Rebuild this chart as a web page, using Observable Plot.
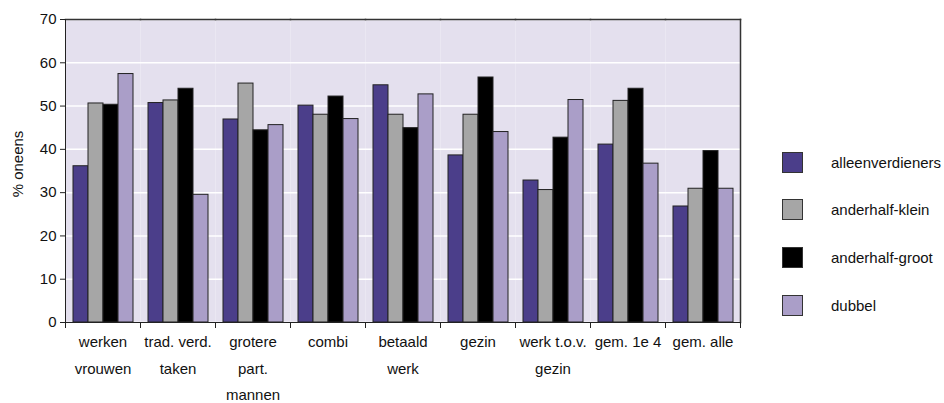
<!DOCTYPE html>
<html>
<head>
<meta charset="utf-8">
<script src="https://cdn.jsdelivr.net/npm/d3@7"></script>
<script src="https://cdn.jsdelivr.net/npm/@observablehq/plot@0.6"></script>
<style>
  html, body { margin: 0; padding: 0; background: #fff; }
  #wrap { position: relative; width: 944px; height: 403px; font-family: "Liberation Sans", Arial, sans-serif; }
  #ylabel { position: absolute; left: 17px; top: 164px; transform: translate(-50%, -50%) rotate(-90deg); font-size: 15px; color: #111; white-space: nowrap; }
  #legend { position: absolute; left: 782px; top: 151px; }
  .item { position: absolute; left: 0; height: 22px; display: flex; align-items: center; white-space: nowrap; }
  .sw { width: 21px; height: 21px; box-sizing: border-box; border: 1px solid #333; margin-right: 28px; }
  .lbl { font-size: 15px; color: #111; }
</style>
</head>
<body>
<div id="wrap"><div id="ylabel"></div><div id="legend"></div></div>
<script>
const categories = ["werken vrouwen", "trad. verd. taken", "grotere part. mannen", "combi", "betaald werk", "gezin", "werk t.o.v. gezin", "gem. 1e 4", "gem. alle"];
const tickLabels = ["werken\nvrouwen", "trad. verd.\ntaken", "grotere\npart.\nmannen", "combi", "betaald\nwerk", "gezin", "werk t.o.v.\ngezin", "gem. 1e 4", "gem. alle"];
const seriesNames = ["alleenverdieners", "anderhalf-klein", "anderhalf-groot", "dubbel"];
const seriesColors = ["#4b3e8a", "#a6a6a6", "#000000", "#aa9ec8"];
const alleenverdieners = [36.1, 50.7, 46.9, 50.1, 54.8, 38.6, 32.8, 41.1, 26.8];
const anderhalfKlein   = [50.6, 51.3, 55.2, 48.0, 48.0, 48.0, 30.6, 51.2, 30.9];
const anderhalfGroot   = [50.3, 54.0, 44.4, 52.2, 44.9, 56.6, 42.7, 54.0, 39.6];
const dubbel           = [57.4, 29.5, 45.6, 47.0, 52.7, 44.0, 51.4, 36.7, 30.9];
const yTicks = [0, 10, 20, 30, 40, 50, 60, 70];
const yLabel = "% oneens";

const seriesValues = [alleenverdieners, anderhalfKlein, anderhalfGroot, dubbel];
const data = [];
categories.forEach((c, i) => seriesNames.forEach((s, j) => data.push({category: c, series: s, value: seriesValues[j][i]})));
const labelOf = new Map(categories.map((c, i) => [c, tickLabels[i]]));

const H = 403, mTop = 19, mBottom = 81;
const innerH = H - mTop - mBottom;

const chart = Plot.plot({
  width: 944,
  height: H,
  marginTop: mTop,
  marginBottom: mBottom,
  marginLeft: 62,
  marginRight: 201,
  style: {fontFamily: "'Liberation Sans', Arial, sans-serif", fontSize: "15px", color: "#111", background: "transparent"},
  fx: {domain: categories, padding: 0, axis: null},
  x: {domain: seriesNames, paddingInner: 0, paddingOuter: 0.5, axis: null},
  y: {domain: [0, 70], axis: null},
  color: {domain: seriesNames, range: seriesColors},
  marks: [
    Plot.frame({fill: "#e4e0ee", stroke: null}),
    Plot.gridY(yTicks, {stroke: "#ffffff", strokeOpacity: 1, strokeWidth: 1.5}),
    Plot.barY(data, {fx: "category", x: "series", y: "value", fill: "series", stroke: "#222", strokeWidth: 1}),
    Plot.frame({anchor: "top", stroke: "#333", strokeWidth: 1.5}),
    Plot.frame({anchor: "right", facetAnchor: "right", stroke: "#333", strokeWidth: 1.5}),
    Plot.frame({anchor: "left", facetAnchor: "left", stroke: "#222", strokeWidth: 1}),
    Plot.ruleY([0], {stroke: "#222", strokeWidth: 1}),
    Plot.frame({anchor: "left", insetTop: innerH, insetBottom: -5, stroke: "#222", strokeWidth: 1}),
    Plot.frame({anchor: "right", insetTop: innerH, insetBottom: -5, stroke: "#222", strokeWidth: 1}),
    Plot.axisY(yTicks, {tickSize: 5, tickPadding: 4, fontSize: 15, stroke: "#222", label: null}),
    Plot.axisFx({anchor: "bottom", tickSize: 0, tickPadding: 6, fontSize: 15, lineHeight: 1.76, tickFormat: d => labelOf.get(d), label: null})
  ]
});
document.getElementById("wrap").prepend(chart);
document.getElementById("ylabel").textContent = yLabel;

const legend = document.getElementById("legend");
const tops = [0, 47.5, 95, 143.5];
seriesNames.forEach((s, i) => {
  const it = document.createElement("div");
  it.className = "item";
  it.style.top = tops[i] + "px";
  const sw = document.createElement("div");
  sw.className = "sw";
  sw.style.background = seriesColors[i];
  const lb = document.createElement("span");
  lb.className = "lbl";
  lb.textContent = s;
  it.append(sw, lb);
  legend.append(it);
});
</script>
</body>
</html>
